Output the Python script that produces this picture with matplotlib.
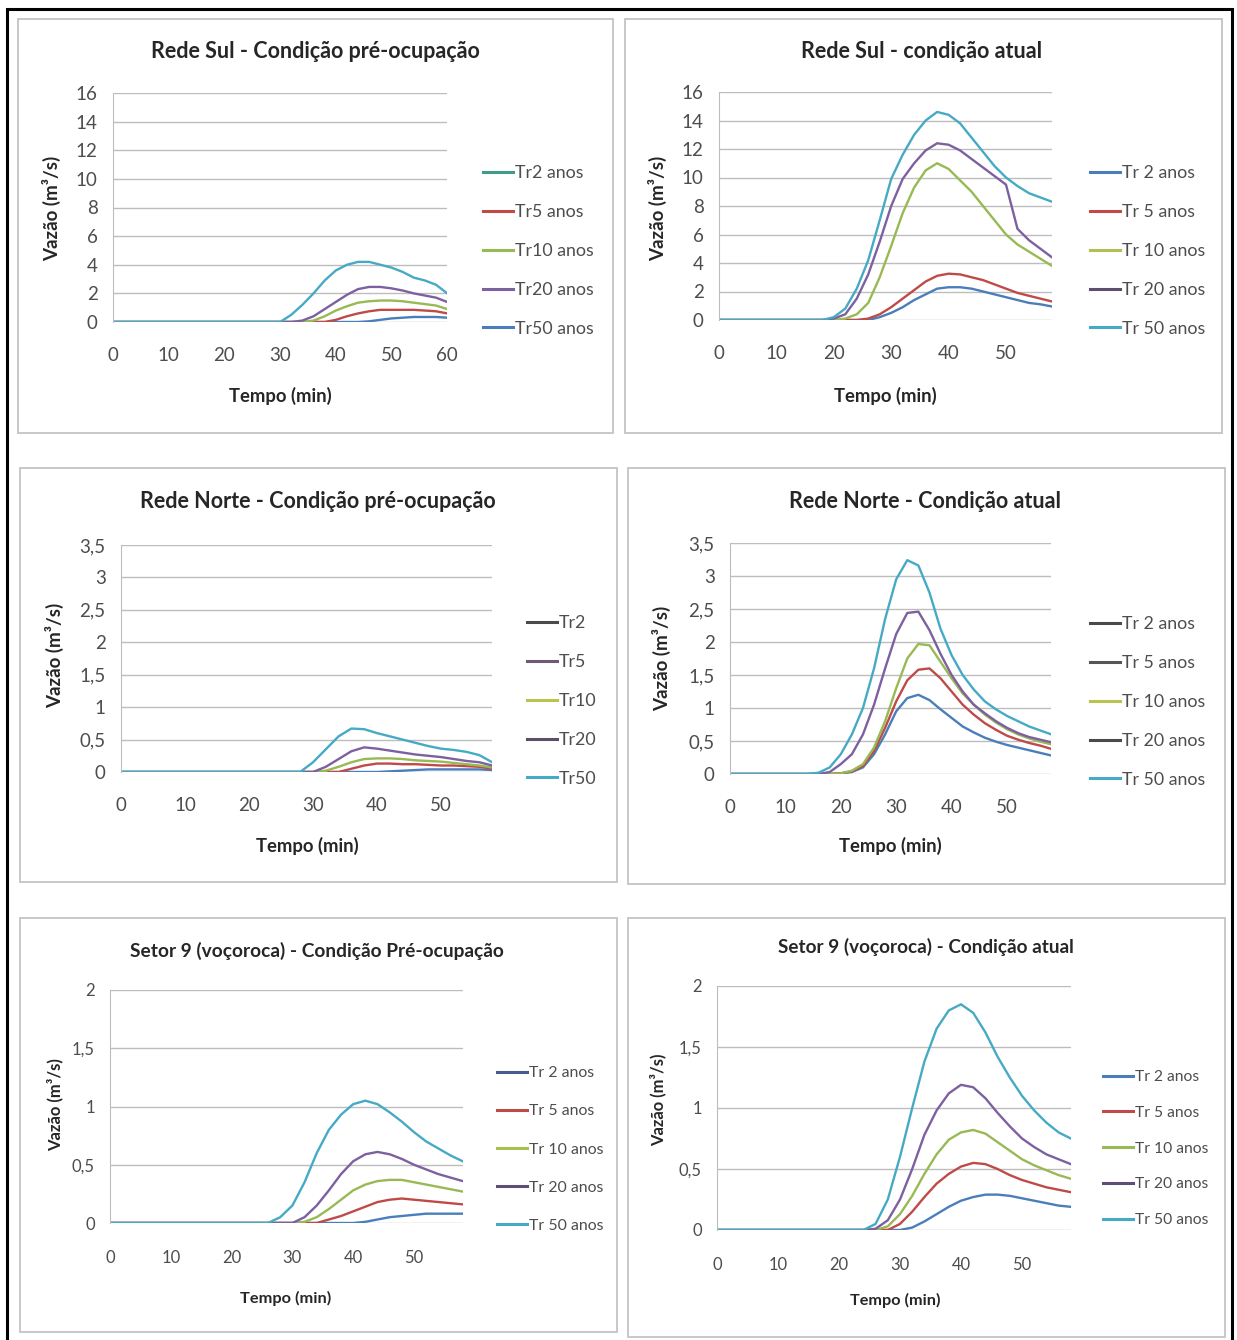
import matplotlib
matplotlib.use("Agg")
import matplotlib.pyplot as plt
from matplotlib.lines import Line2D
from matplotlib.patches import Rectangle
from matplotlib.ticker import FuncFormatter

plt.rcParams['font.family'] = ['Lato', 'DejaVu Sans']

W, H = 1237, 1340

# tempo (min), passo de 2 min
t60 = [0, 2, 4, 6, 8, 10, 12, 14, 16, 18, 20, 22, 24, 26, 28, 30, 32, 34, 36, 38,
       40, 42, 44, 46, 48, 50, 52, 54, 56, 58, 60]
t58 = t60[:-1]

# Rede Sul - pre-ocupacao (0..60)
sul_pre_tr2 = [0, 0, 0, 0, 0, 0, 0, 0, 0, 0, 0, 0, 0, 0, 0, 0, 0, 0, 0, 0, 0, 0, 0,
               0.05, 0.15, 0.25, 0.3, 0.35, 0.35, 0.35, 0.3]
sul_pre_tr5 = [0, 0, 0, 0, 0, 0, 0, 0, 0, 0, 0, 0, 0, 0, 0, 0, 0, 0, 0, 0,
               0.15, 0.4, 0.6, 0.75, 0.85, 0.85, 0.85, 0.85, 0.8, 0.75, 0.6]
sul_pre_tr10 = [0, 0, 0, 0, 0, 0, 0, 0, 0, 0, 0, 0, 0, 0, 0, 0, 0, 0,
                0.1, 0.4, 0.8, 1.1, 1.35, 1.45, 1.5, 1.5, 1.45, 1.35, 1.25, 1.15, 0.9]
sul_pre_tr20 = [0, 0, 0, 0, 0, 0, 0, 0, 0, 0, 0, 0, 0, 0, 0, 0, 0,
                0.1, 0.4, 0.9, 1.4, 1.9, 2.3, 2.45, 2.45, 2.35, 2.2, 2.0, 1.85, 1.7, 1.4]
sul_pre_tr50 = [0, 0, 0, 0, 0, 0, 0, 0, 0, 0, 0, 0, 0, 0, 0, 0,
                0.5, 1.2, 2.0, 2.9, 3.6, 4.0, 4.2, 4.2, 4.0, 3.8, 3.5, 3.1, 2.9, 2.6, 2.0]

# Rede Sul - atual
sul_at_tr2 = [0, 0, 0, 0, 0, 0, 0, 0, 0, 0, 0, 0, 0, 0,
              0.2, 0.5, 0.9, 1.4, 1.8, 2.2, 2.3, 2.3, 2.2, 2.0, 1.8, 1.6, 1.4, 1.2, 1.1, 0.95]
sul_at_tr5 = [0, 0, 0, 0, 0, 0, 0, 0, 0, 0, 0, 0, 0,
              0.1, 0.4, 0.9, 1.5, 2.1, 2.7, 3.1, 3.25, 3.2, 3.0, 2.8, 2.5, 2.2, 1.9, 1.7, 1.5, 1.3]
sul_at_tr10 = [0, 0, 0, 0, 0, 0, 0, 0, 0, 0, 0,
               0.1, 0.4, 1.2, 3.0, 5.2, 7.5, 9.3, 10.5, 11.0, 10.6, 9.8, 9.0, 8.0, 7.0, 6.0,
               5.3, 4.8, 4.3, 3.8]
sul_at_tr20 = [0, 0, 0, 0, 0, 0, 0, 0, 0, 0,
               0.1, 0.4, 1.5, 3.2, 5.5, 8.0, 9.9, 11.0, 11.9, 12.4, 12.3, 11.9, 11.3, 10.7,
               10.1, 9.5, 6.4, 5.6, 5.0, 4.4]
sul_at_tr50 = [0, 0, 0, 0, 0, 0, 0, 0, 0, 0,
               0.2, 0.8, 2.2, 4.2, 7.0, 9.9, 11.6, 13.0, 14.0, 14.6, 14.4, 13.8, 12.8, 11.8,
               10.8, 10.0, 9.4, 8.9, 8.6, 8.3]

# Rede Norte - pre-ocupacao
norte_pre_tr2 = [0, 0, 0, 0, 0, 0, 0, 0, 0, 0, 0, 0, 0, 0, 0, 0, 0, 0, 0, 0, 0,
                 0.01, 0.02, 0.03, 0.04, 0.04, 0.04, 0.04, 0.04, 0.03]
norte_pre_tr5 = [0, 0, 0, 0, 0, 0, 0, 0, 0, 0, 0, 0, 0, 0, 0, 0, 0, 0,
                 0.05, 0.1, 0.13, 0.13, 0.12, 0.12, 0.11, 0.1, 0.1, 0.09, 0.08, 0.05]
norte_pre_tr10 = [0, 0, 0, 0, 0, 0, 0, 0, 0, 0, 0, 0, 0, 0, 0, 0,
                  0.02, 0.08, 0.15, 0.2, 0.21, 0.21, 0.2, 0.18, 0.17, 0.16, 0.14, 0.12, 0.1, 0.07]
norte_pre_tr20 = [0, 0, 0, 0, 0, 0, 0, 0, 0, 0, 0, 0, 0, 0, 0, 0,
                  0.08, 0.2, 0.32, 0.38, 0.36, 0.33, 0.3, 0.27, 0.25, 0.23, 0.2, 0.17, 0.15, 0.1]
norte_pre_tr50 = [0, 0, 0, 0, 0, 0, 0, 0, 0, 0, 0, 0, 0, 0, 0,
                  0.15, 0.35, 0.55, 0.67, 0.66, 0.6, 0.55, 0.5, 0.45, 0.4, 0.36, 0.34, 0.31,
                  0.26, 0.15]

# Rede Norte - atual
norte_at_tr2 = [0, 0, 0, 0, 0, 0, 0, 0, 0, 0,
                0.01, 0.03, 0.1, 0.3, 0.6, 0.95, 1.15, 1.2, 1.12, 0.98, 0.85, 0.72, 0.63,
                0.55, 0.49, 0.44, 0.4, 0.36, 0.32, 0.28]
norte_at_tr5 = [0, 0, 0, 0, 0, 0, 0, 0, 0, 0,
                0.01, 0.04, 0.12, 0.35, 0.7, 1.1, 1.42, 1.58, 1.6, 1.45, 1.25, 1.05, 0.9,
                0.77, 0.67, 0.58, 0.52, 0.47, 0.43, 0.38]
norte_at_tr10 = [0, 0, 0, 0, 0, 0, 0, 0, 0, 0,
                 0.01, 0.05, 0.15, 0.4, 0.8, 1.3, 1.75, 1.97, 1.95, 1.7, 1.45, 1.22, 1.05,
                 0.9, 0.78, 0.68, 0.6, 0.54, 0.49, 0.45]
norte_at_tr20 = [0, 0, 0, 0, 0, 0, 0, 0, 0,
                 0.03, 0.15, 0.3, 0.6, 1.05, 1.6, 2.12, 2.44, 2.46, 2.18, 1.82, 1.5, 1.25,
                 1.05, 0.92, 0.8, 0.7, 0.62, 0.56, 0.52, 0.48]
norte_at_tr50 = [0, 0, 0, 0, 0, 0, 0, 0,
                 0.02, 0.1, 0.3, 0.6, 1.0, 1.6, 2.35, 2.95, 3.24, 3.16, 2.75, 2.2, 1.8, 1.5,
                 1.28, 1.1, 0.98, 0.88, 0.8, 0.72, 0.66, 0.6]

# Setor 9 - pre-ocupacao
s9_pre_tr2 = [0, 0, 0, 0, 0, 0, 0, 0, 0, 0, 0, 0, 0, 0, 0, 0, 0, 0, 0, 0, 0,
              0.01, 0.03, 0.05, 0.06, 0.07, 0.08, 0.08, 0.08, 0.08]
s9_pre_tr5 = [0, 0, 0, 0, 0, 0, 0, 0, 0, 0, 0, 0, 0, 0, 0, 0, 0, 0,
              0.03, 0.06, 0.1, 0.14, 0.18, 0.2, 0.21, 0.2, 0.19, 0.18, 0.17, 0.16]
s9_pre_tr10 = [0, 0, 0, 0, 0, 0, 0, 0, 0, 0, 0, 0, 0, 0, 0, 0,
               0.01, 0.05, 0.12, 0.2, 0.28, 0.33, 0.36, 0.37, 0.37, 0.35, 0.33, 0.31, 0.29, 0.27]
s9_pre_tr20 = [0, 0, 0, 0, 0, 0, 0, 0, 0, 0, 0, 0, 0, 0, 0, 0,
               0.05, 0.15, 0.28, 0.42, 0.53, 0.59, 0.61, 0.59, 0.55, 0.5, 0.46, 0.42, 0.39, 0.36]
s9_pre_tr50 = [0, 0, 0, 0, 0, 0, 0, 0, 0, 0, 0, 0, 0, 0,
               0.05, 0.15, 0.35, 0.6, 0.8, 0.93, 1.02, 1.05, 1.02, 0.95, 0.87, 0.78, 0.7,
               0.64, 0.58, 0.53]

# Setor 9 - atual
s9_at_tr2 = [0, 0, 0, 0, 0, 0, 0, 0, 0, 0, 0, 0, 0, 0, 0, 0,
             0.02, 0.07, 0.13, 0.19, 0.24, 0.27, 0.29, 0.29, 0.28, 0.26, 0.24, 0.22, 0.2, 0.19]
s9_at_tr5 = [0, 0, 0, 0, 0, 0, 0, 0, 0, 0, 0, 0, 0, 0, 0,
             0.05, 0.15, 0.27, 0.38, 0.46, 0.52, 0.55, 0.54, 0.5, 0.45, 0.41, 0.38, 0.35,
             0.33, 0.31]
s9_at_tr10 = [0, 0, 0, 0, 0, 0, 0, 0, 0, 0, 0, 0, 0, 0,
              0.03, 0.13, 0.28, 0.46, 0.62, 0.74, 0.8, 0.82, 0.79, 0.72, 0.65, 0.58, 0.53,
              0.49, 0.45, 0.42]
s9_at_tr20 = [0, 0, 0, 0, 0, 0, 0, 0, 0, 0, 0, 0, 0,
              0.01, 0.08, 0.25, 0.5, 0.78, 0.98, 1.12, 1.19, 1.17, 1.08, 0.96, 0.85, 0.75,
              0.68, 0.62, 0.58, 0.54]
s9_at_tr50 = [0, 0, 0, 0, 0, 0, 0, 0, 0, 0, 0, 0, 0,
              0.05, 0.25, 0.6, 1.0, 1.38, 1.65, 1.8, 1.85, 1.78, 1.62, 1.42, 1.25, 1.1,
              0.98, 0.88, 0.8, 0.75]

lbl_anos = ["Tr 2 anos", "Tr 5 anos", "Tr 10 anos", "Tr 20 anos", "Tr 50 anos"]
lbl_anos_nosp = ["Tr2 anos", "Tr5 anos", "Tr10 anos", "Tr20 anos", "Tr50 anos"]
lbl_tr = ["Tr2", "Tr5", "Tr10", "Tr20", "Tr50"]

BLUE, RED, GREEN, PURPLE, TEAL = "#4a7ebb", "#be4b48", "#98b954", "#7d60a0", "#46aac5"
line_colors = [BLUE, RED, GREEN, PURPLE, TEAL]

# panel layout in pixels: box, x0 px, px per 10 min, xmax, y top px, y zero px, ymax, ystep
panels = [
    dict(title="Rede Sul - Condição pré-ocupação", t=t60,
         series=[sul_pre_tr2, sul_pre_tr5, sul_pre_tr10, sul_pre_tr20, sul_pre_tr50],
         labels=lbl_anos_nosp,
         leg_colors=["#3e9c8c", RED, GREEN, PURPLE, BLUE],
         box=(18, 19, 613, 433), x0=113, dx=55.7, xmax=60, ytop=93, ybot=322, ymax=16, ystep=2,
         title_xy=(315, 51), ylab_xy=(52, 208), xlab_xy=(280, 396), leg=(483, 173, 39), fs=1.0),
    dict(title="Rede Sul - condição atual", t=t58,
         series=[sul_at_tr2, sul_at_tr5, sul_at_tr10, sul_at_tr20, sul_at_tr50],
         labels=lbl_anos,
         leg_colors=[BLUE, RED, "#b3bf52", "#5e4f6e", TEAL],
         box=(625, 19, 1222, 433), x0=719, dx=57.4, xmax=58, ytop=92, ybot=320, ymax=16, ystep=2,
         title_xy=(922, 51), ylab_xy=(658, 208), xlab_xy=(885, 396), leg=(1090, 173, 39), fs=1.0),
    dict(title="Rede Norte - Condição pré-ocupação", t=t58,
         series=[norte_pre_tr2, norte_pre_tr5, norte_pre_tr10, norte_pre_tr20, norte_pre_tr50],
         labels=lbl_tr,
         leg_colors=["#4a4a4a", "#6e5a78", "#b8c450", "#5c4e68", TEAL],
         box=(20, 468, 617, 882), x0=121, dx=64.0, xmax=58, ytop=545, ybot=772, ymax=3.5, ystep=0.5,
         title_xy=(318, 501), ylab_xy=(55, 655), xlab_xy=(307, 846), leg=(527, 623, 39), fs=1.0),
    dict(title="Rede Norte - Condição atual", t=t58,
         series=[norte_at_tr2, norte_at_tr5, norte_at_tr10, norte_at_tr20, norte_at_tr50],
         labels=lbl_anos,
         leg_colors=["#4a4a4a", "#555555", "#b8c450", "#4a4a4a", TEAL],
         box=(628, 468, 1225, 884), x0=730, dx=55.4, xmax=58, ytop=543, ybot=774, ymax=3.5, ystep=0.5,
         title_xy=(925, 501), ylab_xy=(662, 658), xlab_xy=(890, 846), leg=(1090, 624, 39), fs=1.0),
    dict(title="Setor 9 (voçoroca) - Condição Pré-ocupação", t=t58,
         series=[s9_pre_tr2, s9_pre_tr5, s9_pre_tr10, s9_pre_tr20, s9_pre_tr50],
         labels=lbl_anos,
         leg_colors=["#4a5a8a", RED, "#a8c050", "#5c4e78", TEAL],
         box=(20, 918, 617, 1332), x0=110, dx=60.8, xmax=58, ytop=990, ybot=1223, ymax=2, ystep=0.5,
         title_xy=(317, 951), ylab_xy=(55, 1105), xlab_xy=(286, 1298), leg=(497, 1073, 38.3), fs=0.89),
    dict(title="Setor 9 (voçoroca) - Condição atual", t=t58,
         series=[s9_at_tr2, s9_at_tr5, s9_at_tr10, s9_at_tr20, s9_at_tr50],
         labels=lbl_anos,
         leg_colors=[BLUE, RED, GREEN, "#5c4e78", TEAL],
         box=(628, 918, 1225, 1337), x0=717, dx=61.0, xmax=58, ytop=986, ybot=1230, ymax=2, ystep=0.5,
         title_xy=(926, 947), ylab_xy=(658, 1100), xlab_xy=(895, 1300), leg=(1103, 1077, 35.8), fs=0.88),
]


def fx(x):
    return x / W


def fy(y):
    return 1 - y / H


fig = plt.figure(figsize=(W / 100, H / 100), dpi=100)
fig.patch.set_facecolor("white")

# outer black frame
fig.add_artist(Rectangle((fx(7), fy(1345)), fx(1232 - 7), (1345 - 9) / H,
                         transform=fig.transFigure, fill=False, edgecolor="black", lw=2.2))

comma = FuncFormatter(lambda v, p: ("%g" % v).replace(".", ","))

for p in panels:
    k = p["fs"]
    bl, bt, br, bb = p["box"]
    fig.add_artist(Rectangle((fx(bl), fy(bb)), (br - bl) / W, (bb - bt) / H,
                             transform=fig.transFigure, fill=False,
                             edgecolor="#c4c4c4", lw=1.3))

    xright = p["x0"] + p["dx"] * p["xmax"] / 10
    ax = fig.add_axes([fx(p["x0"]), fy(p["ybot"]), (xright - p["x0"]) / W,
                       (p["ybot"] - p["ytop"]) / H])
    for s, c in zip(p["series"], line_colors):
        ax.plot(p["t"], s, color=c, lw=1.7, solid_joinstyle="round")

    ax.set_xlim(0, p["xmax"])
    ax.set_ylim(0, p["ymax"])
    xt = list(range(0, int(p["xmax"]) + 1, 10))
    ax.set_xticks(xt)
    n = int(round(p["ymax"] / p["ystep"]))
    ax.set_yticks([i * p["ystep"] for i in range(n + 1)])
    ax.yaxis.set_major_formatter(comma)
    ax.grid(axis="y", color="#bdbdbd", lw=1.0)
    ax.set_axisbelow(True)
    for side in ["top", "right", "bottom"]:
        ax.spines[side].set_visible(False)
    ax.spines["left"].set_color("#bdbdbd")
    ax.tick_params(length=0, labelsize=13.5 * k, labelcolor="#4d4d4d")
    ax.tick_params(axis="x", pad=18 + (1 - k) * 12)
    ax.tick_params(axis="y", pad=11)
    ax.set_facecolor("none")

    fig.text(fx(p["title_xy"][0]), fy(p["title_xy"][1]), p["title"], ha="center",
             va="center", fontsize=15.5 * k, fontweight="bold", color="#262626")
    fig.text(fx(p["ylab_xy"][0]), fy(p["ylab_xy"][1]), "Vazão (m³/s)", ha="center",
             va="center", rotation=90, fontsize=13.5 * k, fontweight="bold", color="#262626")
    fig.text(fx(p["xlab_xy"][0]), fy(p["xlab_xy"][1]), "Tempo (min)", ha="center",
             va="center", fontsize=13.3 * k, fontweight="bold", color="#262626")

    # legend
    lx, ly, lstep = p["leg"]
    handles = [Line2D([], [], color=c, lw=2.2) for c in p["leg_colors"]]
    mid_y = ly + 2 * lstep
    fs = 12.8 * k
    row_px = fs * 100 / 72
    spacing = (lstep + 1.6 - row_px) / row_px
    leg = fig.legend(handles, p["labels"], loc="center left",
                     bbox_to_anchor=(fx(lx), fy(mid_y)), bbox_transform=fig.transFigure,
                     frameon=False, fontsize=fs, handlelength=1.7 / k, handletextpad=0.1,
                     borderpad=0, borderaxespad=0, labelspacing=spacing)
    for txt in leg.get_texts():
        txt.set_color("#4d4d4d")

fig.savefig("out.png", dpi=100, facecolor="white")
